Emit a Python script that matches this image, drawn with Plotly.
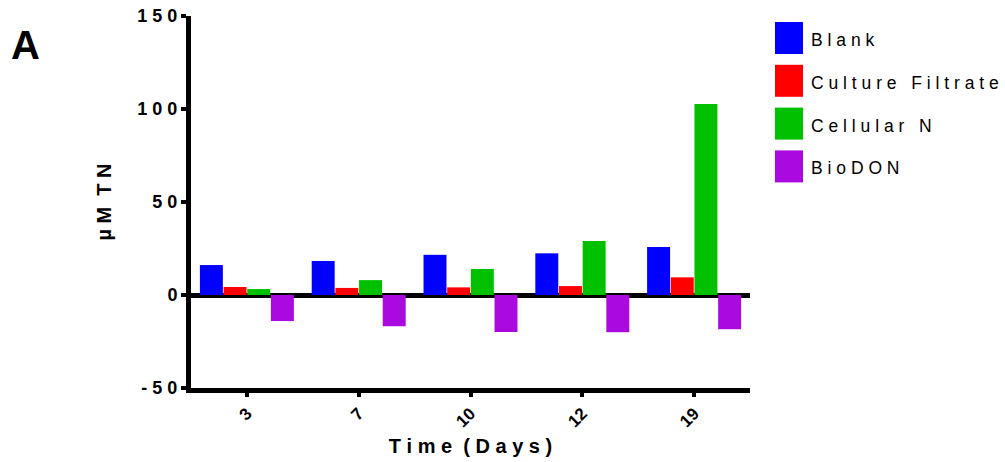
import plotly.graph_objects as go

# ---- data ----
days = ["3", "7", "10", "12", "19"]
series_names = ["Blank", "Culture Filtrate", "Cellular N", "BioDON"]
blank = [16.1, 18.3, 21.6, 22.4, 25.8]
culture_filtrate = [4.3, 3.8, 4.1, 4.8, 9.5]
cellular_n = [3.2, 8.0, 14.0, 29.0, 102.7]
biodon = [-14.0, -16.8, -19.9, -20.0, -18.4]
y_ticks = [-50, 0, 50, 100, 150]
colors = ["#0000FF", "#FF0000", "#00C000", "#AA0AE0"]

series_values = [blank, culture_filtrate, cellular_n, biodon]

W, H = 1005, 462
ML, MR, MT, MB = 191, 255, 16, 74
PW, PH = W - ML - MR, H - MT - MB


def spaced(s):
    return " ".join(list(s))


FONT = "Liberation Sans, Arial, sans-serif"

fig = go.Figure()
for name, vals, col in zip(series_names, series_values, colors):
    fig.add_trace(go.Bar(
        x=days, y=vals, name=name,
        marker=dict(color=col, line=dict(width=0)),
        showlegend=False,
    ))


# helpers converting pixel positions into paper coordinates
def px_x(px):
    return (px - ML) / PW


def px_y(py):
    return (H - MB - py) / PH


shapes = []
annotations = []
for i, (name, col) in enumerate(zip(series_names, colors)):
    top = 22 + i * 42.8
    bot = top + 32
    shapes.append(dict(type="rect", xref="paper", yref="paper",
                       x0=px_x(775), x1=px_x(803), y0=px_y(bot), y1=px_y(top),
                       fillcolor=col, line=dict(width=0)))
    annotations.append(dict(xref="paper", yref="paper", x=px_x(809),
                            y=px_y((top + bot) / 2 + 2), text=spaced(name),
                            showarrow=False, xanchor="left", yanchor="middle",
                            font=dict(family=FONT, size=17.5, color="black")))

annotations.append(dict(xref="paper", yref="paper", x=px_x(25), y=px_y(45),
                        text="A", showarrow=False, xanchor="center",
                        yanchor="middle",
                        font=dict(family=FONT, size=40, color="black",
                                  weight="bold")))

fig.update_layout(
    width=W, height=H,
    margin=dict(l=ML, r=MR, t=MT, b=MB),
    paper_bgcolor="white", plot_bgcolor="white",
    barmode="group", bargap=0.153, bargroupgap=0.03,
    font=dict(family=FONT, color="black"),
    shapes=shapes, annotations=annotations,
    xaxis=dict(
        type="category", range=[-0.5, 4.5], automargin=False,
        showline=True, linewidth=5, linecolor="black",
        ticks="outside", ticklen=4, tickwidth=4, tickcolor="black",
        tickangle=-45, showgrid=False, zeroline=False,
        ticklabeloverflow="allow",
        tickfont=dict(family=FONT, size=17, weight="bold"),
        title=dict(text=spaced("Time") + "  " + spaced("(Days)"),
                   font=dict(family=FONT, size=20, weight="bold"),
                   standoff=10),
    ),
    yaxis=dict(
        range=[-50, 150], automargin=False,
        tickvals=y_ticks, ticktext=[spaced(str(v)) for v in y_ticks],
        showline=True, linewidth=5, linecolor="black",
        ticks="outside", ticklen=5, tickwidth=4, tickcolor="black",
        showgrid=False, ticklabeloverflow="allow",
        zeroline=True, zerolinewidth=5, zerolinecolor="black",
        tickfont=dict(family=FONT, size=18, weight="bold"),
        title=dict(text="µ M  T N",
                   font=dict(family=FONT, size=20, weight="bold"),
                   standoff=22),
    ),
)

fig.write_html("out.html",
               config={"displayModeBar": False},
               post_script="document.body.style.margin='0';"
                           "document.body.style.overflow='hidden';")
